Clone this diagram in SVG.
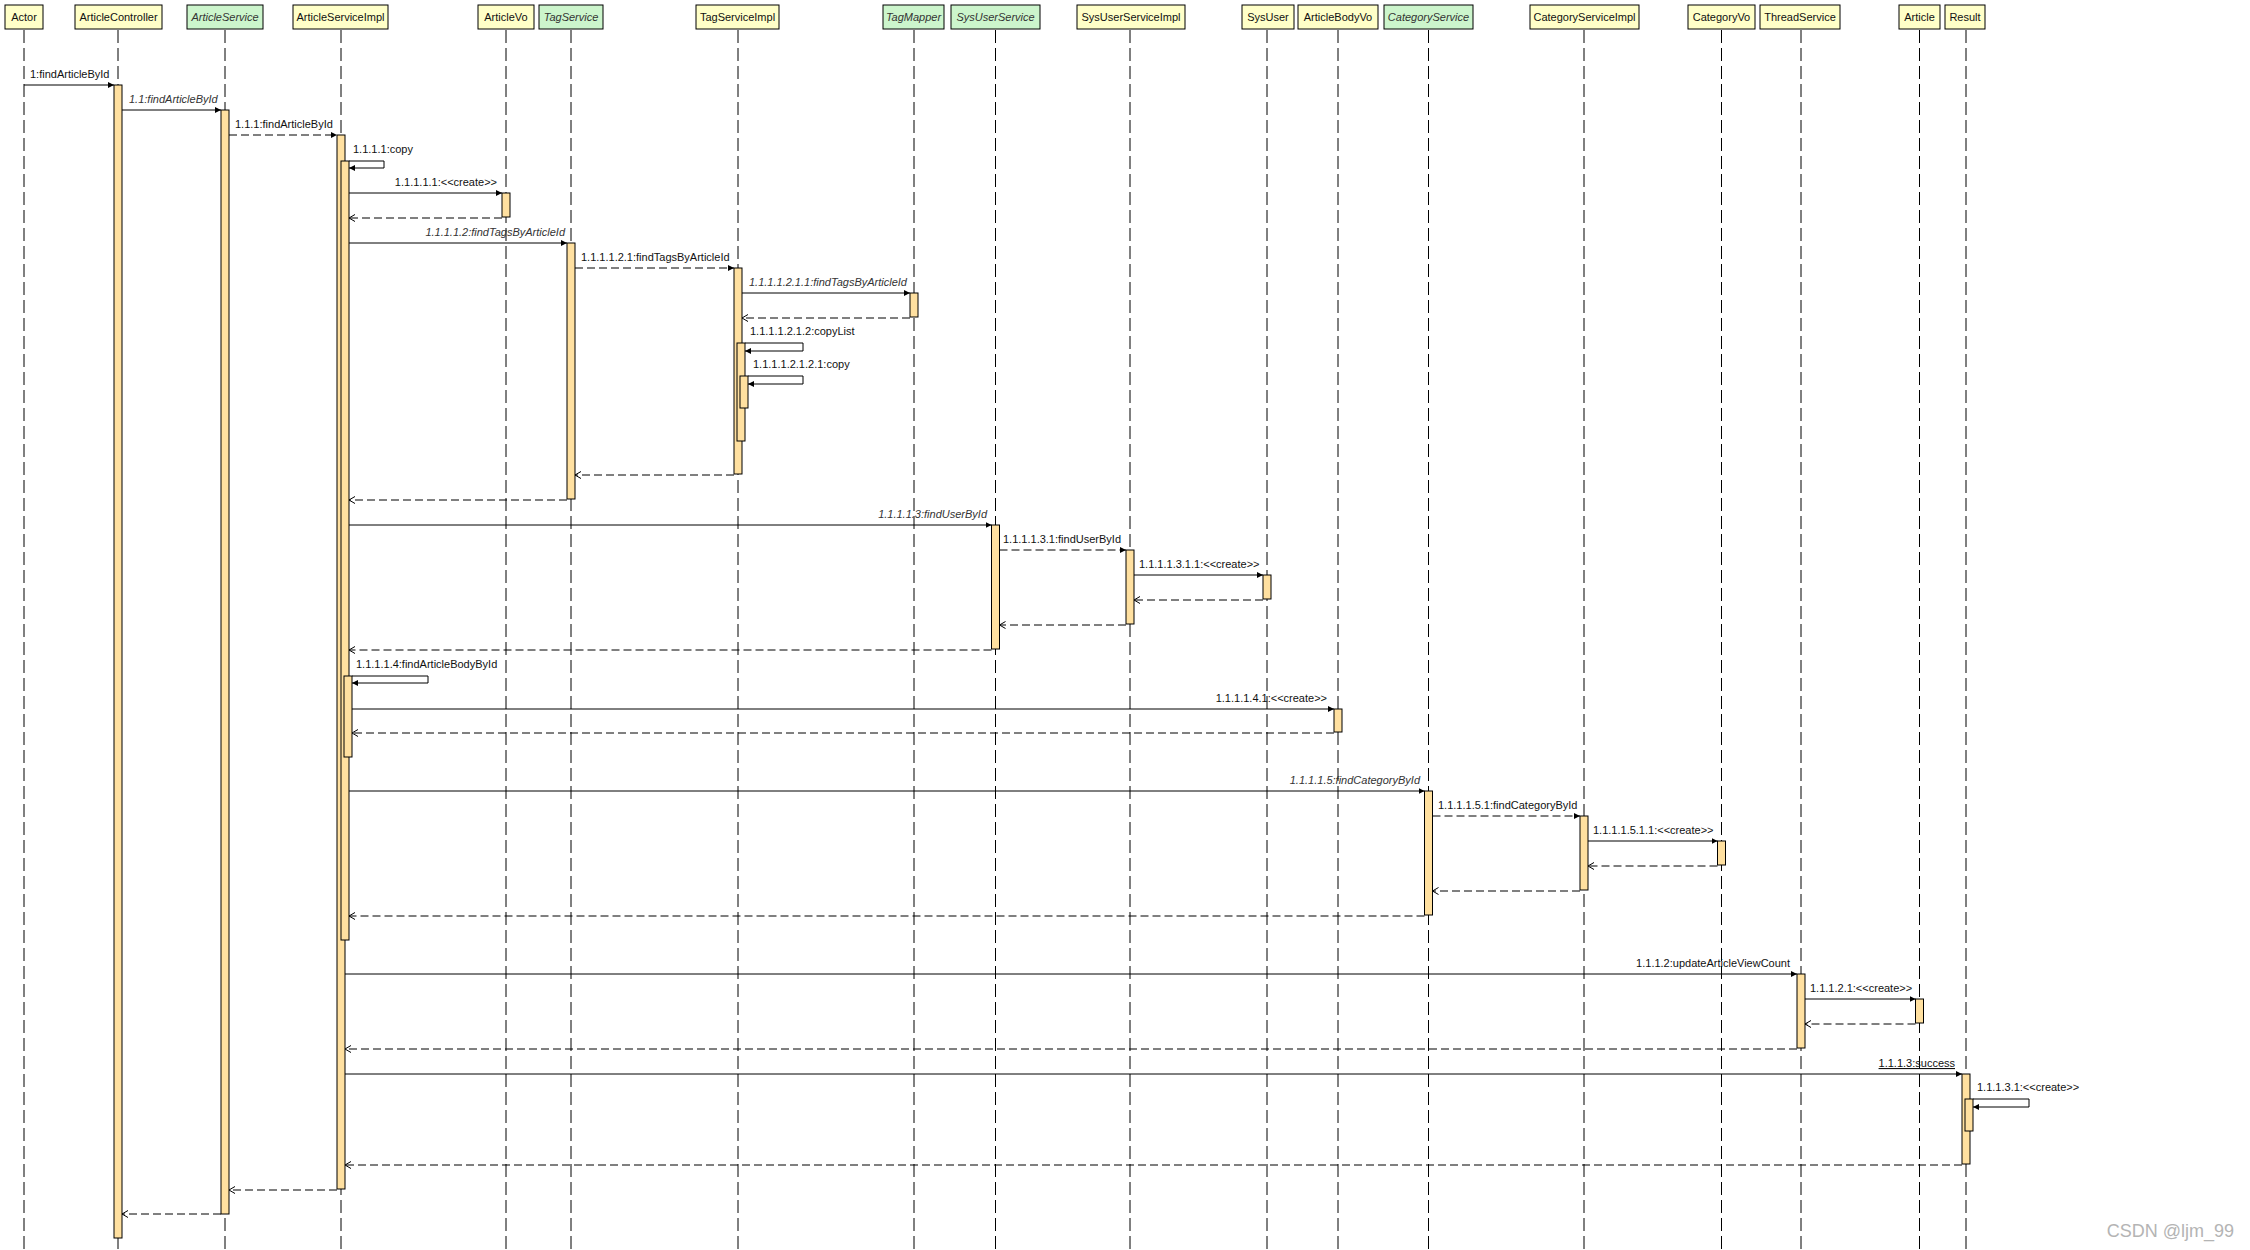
<svg xmlns="http://www.w3.org/2000/svg" width="2250" height="1250" viewBox="0 0 2250 1250">
<style>
text{font-family:"Liberation Sans",Arial,sans-serif;font-size:11px;fill:#111}
.hdr{stroke:#000;stroke-width:1}
.y{fill:#FFFFC8}
.g{fill:#CCF5CC}
.ht{text-anchor:middle}
.it{font-style:italic;fill:#333}
.life{stroke:#000;stroke-width:1;stroke-dasharray:13 5;fill:none}
.bar{fill:#FFE0A0;stroke:#000;stroke-width:1}
.call{stroke:#000;stroke-width:1;fill:none;marker-end:url(#fh)}
.dcall{stroke:#000;stroke-width:1;fill:none;stroke-dasharray:8 4;marker-end:url(#fh)}
.ret{stroke:#000;stroke-width:1;fill:none;stroke-dasharray:8 4;marker-end:url(#oh)}
.end{text-anchor:end}
.wm{font-size:18px;fill:#B4B4B4}
</style>
<defs>
<marker id="fh" markerWidth="7" markerHeight="6" refX="6" refY="3" orient="auto" markerUnits="userSpaceOnUse"><path d="M0,0 L6,3 L0,6 z" fill="#000"/></marker>
<marker id="oh" markerWidth="8" markerHeight="9" refX="6.5" refY="4" orient="auto" markerUnits="userSpaceOnUse"><path d="M0.5,0.5 L6.5,4 L0.5,7.5" fill="none" stroke="#000" stroke-width="1"/></marker>
</defs>
<rect x="0" y="0" width="2250" height="1250" fill="#fff"/>

<g id="n-actor"><line class="life" x1="24" y1="30" x2="24" y2="1250"/><rect class="hdr y" x="5" y="5" width="38" height="24"/><text class="ht" x="24" y="21">Actor</text></g>
<g id="n-articlecontroller"><line class="life" x1="118" y1="30" x2="118" y2="1250"/><rect class="hdr y" x="75" y="5" width="87" height="24"/><text class="ht" x="118.5" y="21">ArticleController</text><rect class="bar" x="114" y="85" width="8" height="1153"/></g>
<g id="n-articleservice"><line class="life" x1="225" y1="30" x2="225" y2="1250"/><rect class="hdr g" x="187" y="5" width="76" height="24"/><text class="ht it" x="225" y="21">ArticleService</text><rect class="bar" x="221" y="110" width="8" height="1104"/></g>
<g id="n-articleserviceimpl"><line class="life" x1="341" y1="30" x2="341" y2="1250"/><rect class="hdr y" x="293" y="5" width="95" height="24"/><text class="ht" x="340.5" y="21">ArticleServiceImpl</text><rect class="bar" x="337" y="135" width="8" height="1054"/><rect class="bar" x="341" y="161" width="8" height="779"/><rect class="bar" x="344" y="676" width="8" height="81"/></g>
<g id="n-articlevo"><line class="life" x1="506" y1="30" x2="506" y2="1250"/><rect class="hdr y" x="478" y="5" width="56" height="24"/><text class="ht" x="506" y="21">ArticleVo</text><rect class="bar" x="502" y="193" width="8" height="24"/></g>
<g id="n-tagservice"><line class="life" x1="571" y1="30" x2="571" y2="1250"/><rect class="hdr g" x="539" y="5" width="64" height="24"/><text class="ht it" x="571" y="21">TagService</text><rect class="bar" x="567" y="243" width="8" height="256"/></g>
<g id="n-tagserviceimpl"><line class="life" x1="738" y1="30" x2="738" y2="1250"/><rect class="hdr y" x="696" y="5" width="83" height="24"/><text class="ht" x="737.5" y="21">TagServiceImpl</text><rect class="bar" x="734" y="268" width="8" height="206"/><rect class="bar" x="737" y="343" width="8" height="98"/><rect class="bar" x="740" y="376" width="8" height="32"/></g>
<g id="n-tagmapper"><line class="life" x1="914" y1="30" x2="914" y2="1250"/><rect class="hdr g" x="883" y="5" width="61" height="24"/><text class="ht it" x="913.5" y="21">TagMapper</text><rect class="bar" x="910" y="293" width="8" height="24"/></g>
<g id="n-sysuserservice"><line class="life" x1="995.5" y1="30" x2="995.5" y2="1250"/><rect class="hdr g" x="951" y="5" width="89" height="24"/><text class="ht it" x="995.5" y="21">SysUserService</text><rect class="bar" x="991.5" y="525" width="8" height="124"/></g>
<g id="n-sysuserserviceimpl"><line class="life" x1="1130" y1="30" x2="1130" y2="1250"/><rect class="hdr y" x="1077" y="5" width="108" height="24"/><text class="ht" x="1131" y="21">SysUserServiceImpl</text><rect class="bar" x="1126" y="550" width="8" height="74"/></g>
<g id="n-sysuser"><line class="life" x1="1267" y1="30" x2="1267" y2="1250"/><rect class="hdr y" x="1242" y="5" width="52" height="24"/><text class="ht" x="1268" y="21">SysUser</text><rect class="bar" x="1263" y="575" width="8" height="24"/></g>
<g id="n-articlebodyvo"><line class="life" x1="1338" y1="30" x2="1338" y2="1250"/><rect class="hdr y" x="1298" y="5" width="80" height="24"/><text class="ht" x="1338" y="21">ArticleBodyVo</text><rect class="bar" x="1334" y="709" width="8" height="23"/></g>
<g id="n-categoryservice"><line class="life" x1="1428.5" y1="30" x2="1428.5" y2="1250"/><rect class="hdr g" x="1384" y="5" width="89" height="24"/><text class="ht it" x="1428.5" y="21">CategoryService</text><rect class="bar" x="1424.5" y="791" width="8" height="124"/></g>
<g id="n-categoryserviceimpl"><line class="life" x1="1584" y1="30" x2="1584" y2="1250"/><rect class="hdr y" x="1530" y="5" width="109" height="24"/><text class="ht" x="1584.5" y="21">CategoryServiceImpl</text><rect class="bar" x="1580" y="816" width="8" height="74"/></g>
<g id="n-categoryvo"><line class="life" x1="1721.5" y1="30" x2="1721.5" y2="1250"/><rect class="hdr y" x="1688" y="5" width="67" height="24"/><text class="ht" x="1721.5" y="21">CategoryVo</text><rect class="bar" x="1717.5" y="841" width="8" height="24"/></g>
<g id="n-threadservice"><line class="life" x1="1801" y1="30" x2="1801" y2="1250"/><rect class="hdr y" x="1760" y="5" width="80" height="24"/><text class="ht" x="1800" y="21">ThreadService</text><rect class="bar" x="1797" y="974" width="8" height="74"/></g>
<g id="n-article"><line class="life" x1="1919.5" y1="30" x2="1919.5" y2="1250"/><rect class="hdr y" x="1899" y="5" width="41" height="24"/><text class="ht" x="1919.5" y="21">Article</text><rect class="bar" x="1915.5" y="999" width="8" height="24"/></g>
<g id="n-result"><line class="life" x1="1966" y1="30" x2="1966" y2="1250"/><rect class="hdr y" x="1945" y="5" width="40" height="24"/><text class="ht" x="1965" y="21">Result</text><rect class="bar" x="1962" y="1074" width="8" height="90"/><rect class="bar" x="1965" y="1099" width="8" height="32"/></g>

<g id="connectors">
<line class="call" x1="24" y1="85" x2="114" y2="85"/><text x="30" y="78">1:findArticleById</text>
<line class="call" x1="122" y1="110" x2="221" y2="110"/><text class="it" x="129" y="103">1.1:findArticleById</text>
<line class="dcall" x1="229" y1="135" x2="337" y2="135"/><text x="235" y="128">1.1.1:findArticleById</text>
<polyline class="call" points="349,161 384,161 384,168 349,168"/><text x="353" y="153">1.1.1.1:copy</text>
<line class="call" x1="349" y1="193" x2="502" y2="193"/><text class="end" x="497" y="186">1.1.1.1.1:&lt;&lt;create&gt;&gt;</text>
<line class="ret" x1="502" y1="218" x2="349" y2="218"/>
<line class="call" x1="349" y1="243" x2="567" y2="243"/><text class="it end" x="565" y="236">1.1.1.1.2:findTagsByArticleId</text>
<line class="dcall" x1="575" y1="268" x2="734" y2="268"/><text x="581" y="261">1.1.1.1.2.1:findTagsByArticleId</text>
<line class="call" x1="742" y1="293" x2="910" y2="293"/><text class="it" x="749" y="286">1.1.1.1.2.1.1:findTagsByArticleId</text>
<line class="ret" x1="910" y1="318" x2="742" y2="318"/>
<polyline class="call" points="745,343 803,343 803,351 745,351"/><text x="750" y="335">1.1.1.1.2.1.2:copyList</text>
<polyline class="call" points="748,376 803,376 803,384 748,384"/><text x="753" y="368">1.1.1.1.2.1.2.1:copy</text>
<line class="ret" x1="734" y1="475" x2="575" y2="475"/>
<line class="ret" x1="567" y1="500" x2="349" y2="500"/>
<line class="call" x1="349" y1="525" x2="991.5" y2="525"/><text class="it end" x="987" y="518">1.1.1.1.3:findUserById</text>
<line class="dcall" x1="999.5" y1="550" x2="1126" y2="550"/><text x="1003" y="543">1.1.1.1.3.1:findUserById</text>
<line class="call" x1="1134" y1="575" x2="1263" y2="575"/><text x="1139" y="568">1.1.1.1.3.1.1:&lt;&lt;create&gt;&gt;</text>
<line class="ret" x1="1263" y1="600" x2="1134" y2="600"/>
<line class="ret" x1="1126" y1="625" x2="999.5" y2="625"/>
<line class="ret" x1="991.5" y1="650" x2="349" y2="650"/>
<polyline class="call" points="352,676 428,676 428,683 352,683"/><text x="356" y="668">1.1.1.1.4:findArticleBodyById</text>
<line class="call" x1="352" y1="709" x2="1334" y2="709"/><text class="end" x="1327" y="702">1.1.1.1.4.1:&lt;&lt;create&gt;&gt;</text>
<line class="ret" x1="1334" y1="733" x2="352" y2="733"/>
<line class="call" x1="349" y1="791" x2="1424.5" y2="791"/><text class="it end" x="1420" y="784">1.1.1.1.5:findCategoryById</text>
<line class="dcall" x1="1432.5" y1="816" x2="1580" y2="816"/><text x="1438" y="809">1.1.1.1.5.1:findCategoryById</text>
<line class="call" x1="1588" y1="841" x2="1717.5" y2="841"/><text x="1593" y="834">1.1.1.1.5.1.1:&lt;&lt;create&gt;&gt;</text>
<line class="ret" x1="1717.5" y1="866" x2="1588" y2="866"/>
<line class="ret" x1="1580" y1="891" x2="1432.5" y2="891"/>
<line class="ret" x1="1424.5" y1="916" x2="349" y2="916"/>
<line class="call" x1="345" y1="974" x2="1797" y2="974"/><text class="end" x="1790" y="967">1.1.1.2:updateArticleViewCount</text>
<line class="call" x1="1805" y1="999" x2="1915.5" y2="999"/><text x="1810" y="992">1.1.1.2.1:&lt;&lt;create&gt;&gt;</text>
<line class="ret" x1="1915.5" y1="1024" x2="1805" y2="1024"/>
<line class="ret" x1="1797" y1="1049" x2="345" y2="1049"/>
<line class="call" x1="345" y1="1074" x2="1962" y2="1074"/><text class="end" x="1955" y="1067" text-decoration="underline">1.1.1.3:success</text>
<polyline class="call" points="1973,1099 2029,1099 2029,1107 1973,1107"/><text x="1977" y="1091">1.1.1.3.1:&lt;&lt;create&gt;&gt;</text>
<line class="ret" x1="1962" y1="1165" x2="345" y2="1165"/>
<line class="ret" x1="337" y1="1190" x2="229" y2="1190"/>
<line class="ret" x1="221" y1="1214" x2="122" y2="1214"/>
</g>
<text class="wm" x="2234" y="1237" text-anchor="end">CSDN @ljm_99</text>
</svg>
